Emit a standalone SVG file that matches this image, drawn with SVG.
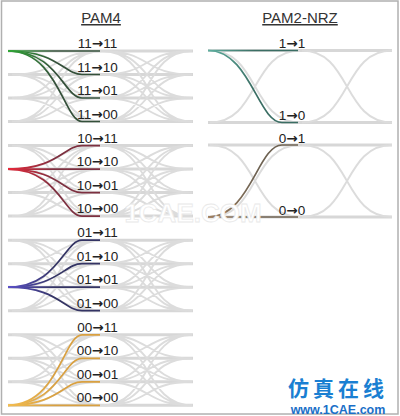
<svg xmlns="http://www.w3.org/2000/svg" xmlns:xlink="http://www.w3.org/1999/xlink" width="400" height="416" viewBox="0 0 400 416">
<style>
.hl{fill:none;stroke:#d7d7d7;stroke-width:3}
.tr{fill:none;stroke:#dcdcdc;stroke-width:1.9}
.c{fill:none;stroke-width:1.7}
.lbl{font-family:"Liberation Sans",Arial,sans-serif;font-size:13.5px;fill:#222;text-anchor:middle}
.ar{font-family:"DejaVu Sans",sans-serif;font-weight:bold}
.ttl{font-family:"Liberation Sans",Arial,sans-serif;font-size:15px;fill:#333;text-anchor:middle;text-decoration:underline}
</style>
<defs>
<linearGradient id="gGreen" gradientUnits="userSpaceOnUse" x1="8" y1="0" x2="55" y2="0"><stop offset="0" stop-color="#2fa836"/><stop offset="1" stop-color="#34503a"/></linearGradient>
<linearGradient id="gRed" gradientUnits="userSpaceOnUse" x1="8" y1="0" x2="55" y2="0"><stop offset="0" stop-color="#e8283a"/><stop offset="1" stop-color="#7d3040"/></linearGradient>
<linearGradient id="gBlue" gradientUnits="userSpaceOnUse" x1="8" y1="0" x2="55" y2="0"><stop offset="0" stop-color="#5a50c8"/><stop offset="1" stop-color="#343464"/></linearGradient>
<linearGradient id="gGold" gradientUnits="userSpaceOnUse" x1="8" y1="0" x2="55" y2="0"><stop offset="0" stop-color="#f2bc50"/><stop offset="1" stop-color="#d9a040"/></linearGradient>
<linearGradient id="gTeal" gradientUnits="userSpaceOnUse" x1="208" y1="0" x2="255" y2="0"><stop offset="0" stop-color="#5fb0a0"/><stop offset="1" stop-color="#3b6e64"/></linearGradient>
<linearGradient id="gBrown" gradientUnits="userSpaceOnUse" x1="208" y1="0" x2="255" y2="0"><stop offset="0" stop-color="#a08060"/><stop offset="1" stop-color="#6e6252"/></linearGradient>
<g id="t4" class="tr">
<path d="M12,0C61,0 53,23.5 102,23.5M12,0C61,0 53,47 102,47M12,0C61,0 53,70.5 102,70.5M12,23.5C61,23.5 53,0 102,0M12,23.5C61,23.5 53,47 102,47M12,23.5C61,23.5 53,70.5 102,70.5M12,47C61,47 53,0 102,0M12,47C61,47 53,23.5 102,23.5M12,47C61,47 53,70.5 102,70.5M12,70.5C61,70.5 53,0 102,0M12,70.5C61,70.5 53,23.5 102,23.5M12,70.5C61,70.5 53,47 102,47"/>
</g>
<g id="eye4">
<path class="hl" d="M8,0H193M8,23.5H193M8,47H193M8,70.5H193"/>
<use xlink:href="#t4"/>
<use xlink:href="#t4" x="90"/>
</g>
<g id="t2" class="tr">
<path d="M210,0C259,0 251,72 300,72M210,72C259,72 251,0 300,0"/>
</g>
<g id="eye2">
<path class="hl" d="M208,0H392M208,72H392"/>
<use xlink:href="#t2"/>
<use xlink:href="#t2" x="92"/>
</g>
</defs>
<rect x="1.5" y="1" width="396.5" height="413" fill="#fff" stroke="#b0b0b0" stroke-width="1.5"/>
<g id="titles">
<text class="ttl" x="101" y="23">PAM4</text>
<text class="ttl" x="300" y="23">PAM2-NRZ</text>
</g>
<g id="pam4-11" transform="translate(0,51)">
<use xlink:href="#eye4"/>
<g class="c" stroke="url(#gGreen)">
<path d="M8,0H100"/>
<path d="M8,0C58,0 64,23.5 82,23.5H100"/>
<path d="M8,0C58,0 64,47 82,47H100"/>
<path d="M8,0C58,0 64,70.5 82,70.5H100"/>
</g>
<text class="lbl" x="97.5" y="-3">11<tspan class="ar">→</tspan>11</text>
<text class="lbl" x="97.5" y="20.5">11<tspan class="ar">→</tspan>10</text>
<text class="lbl" x="97.5" y="44">11<tspan class="ar">→</tspan>01</text>
<text class="lbl" x="97.5" y="67.5">11<tspan class="ar">→</tspan>00</text>
</g>
<g id="pam4-10" transform="translate(0,145.6)">
<use xlink:href="#eye4"/>
<g class="c" stroke="url(#gRed)">
<path d="M8,23.5C58,23.5 64,0 82,0H100"/>
<path d="M8,23.5H100"/>
<path d="M8,23.5C58,23.5 64,47 82,47H100"/>
<path d="M8,23.5C58,23.5 64,70.5 82,70.5H100"/>
</g>
<text class="lbl" x="97.5" y="-3">10<tspan class="ar">→</tspan>11</text>
<text class="lbl" x="97.5" y="20.5">10<tspan class="ar">→</tspan>10</text>
<text class="lbl" x="97.5" y="44">10<tspan class="ar">→</tspan>01</text>
<text class="lbl" x="97.5" y="67.5">10<tspan class="ar">→</tspan>00</text>
</g>
<g id="pam4-01" transform="translate(0,240.2)">
<use xlink:href="#eye4"/>
<g class="c" stroke="url(#gBlue)">
<path d="M8,47C58,47 64,0 82,0H100"/>
<path d="M8,47C58,47 64,23.5 82,23.5H100"/>
<path d="M8,47H100"/>
<path d="M8,47C58,47 64,70.5 82,70.5H100"/>
</g>
<text class="lbl" x="97.5" y="-3">01<tspan class="ar">→</tspan>11</text>
<text class="lbl" x="97.5" y="20.5">01<tspan class="ar">→</tspan>10</text>
<text class="lbl" x="97.5" y="44">01<tspan class="ar">→</tspan>01</text>
<text class="lbl" x="97.5" y="67.5">01<tspan class="ar">→</tspan>00</text>
</g>
<g id="pam4-00" transform="translate(0,334.8)">
<use xlink:href="#eye4"/>
<g class="c" stroke="url(#gGold)">
<path d="M8,70.5C58,70.5 64,0 82,0H100"/>
<path d="M8,70.5C58,70.5 64,23.5 82,23.5H100"/>
<path d="M8,70.5C58,70.5 64,47 82,47H100"/>
<path d="M8,70.5H100"/>
</g>
<text class="lbl" x="97.5" y="-3">00<tspan class="ar">→</tspan>11</text>
<text class="lbl" x="97.5" y="20.5">00<tspan class="ar">→</tspan>10</text>
<text class="lbl" x="97.5" y="44">00<tspan class="ar">→</tspan>01</text>
<text class="lbl" x="97.5" y="67.5">00<tspan class="ar">→</tspan>00</text>
</g>
<g id="nrz-1" transform="translate(0,50.5)">
<use xlink:href="#eye2"/>
<g class="c" stroke="url(#gTeal)">
<path d="M208,0H298"/>
<path d="M208,0C250,0 258,72 282,72H298"/>
</g>
<text class="lbl" x="292" y="-2.5">1<tspan class="ar">→</tspan>1</text>
<text class="lbl" x="292" y="69.5">1<tspan class="ar">→</tspan>0</text>
</g>
<g id="nrz-0" transform="translate(0,145)">
<use xlink:href="#eye2"/>
<g class="c" stroke="url(#gBrown)">
<path d="M208,72C250,72 258,0 282,0H298"/>
<path d="M208,72H298"/>
</g>
<text class="lbl" x="292" y="-2.5">0<tspan class="ar">→</tspan>1</text>
<text class="lbl" x="292" y="69.5">0<tspan class="ar">→</tspan>0</text>
</g>
<g id="watermark">
<text x="193" y="222" font-family="Liberation Sans,Arial,sans-serif" font-size="26" font-weight="bold" fill="#ffffff" stroke="#e9e9e9" stroke-width="0.8" text-anchor="middle">1CAE.COM</text>
<text x="338" y="396" font-family="'Noto Sans CJK SC',sans-serif" font-size="21" font-weight="bold" fill="#1a7fd2" text-anchor="middle" letter-spacing="4">仿真在线</text>
<text x="338" y="414" font-family="Liberation Sans,Arial,sans-serif" font-size="12.5" font-weight="bold" fill="#1a6fc8" text-anchor="middle">www.1CAE.com</text>
</g>
</svg>
